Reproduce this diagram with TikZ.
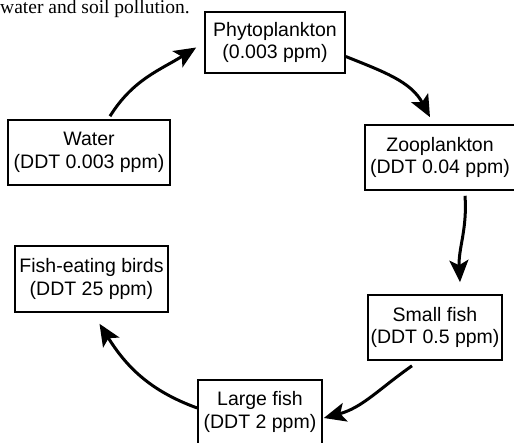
\documentclass[tikz,border=0pt]{standalone}
\usepackage{fontspec}
\setmainfont{Liberation Serif}
\newfontfamily\boxfont{Liberation Sans}
\usetikzlibrary{positioning, arrows.meta, calc}

\begin{document}
\begin{tikzpicture}[
  x=1pt, y=1pt,
  stage/.style={
    draw=black, line width=1.6pt,
    align=center, inner sep=2pt,
    font=\boxfont\fontsize{19.5}{22.5}\selectfont
  },
  flow/.style={
    line width=3pt,
    -{Stealth[length=22pt, width=19pt, inset=5pt]}
  },
]
\useasboundingbox (0,0) rectangle (514,442);

% ---- sentence cut off at the top ----
\node[anchor=base west, inner sep=0pt, font=\fontsize{19.5}{22}\selectfont]
  (caption) at (0,428.5) {water and soil pollution.};

% =====================================================
% FOOD CHAIN BOXES
% =====================================================
\node[stage, minimum width=140pt, minimum height=61pt] (phyto) at (275,399.5)
  {Phytoplankton\\(0.003 ppm)};
\node[stage, minimum width=150pt, minimum height=65pt] (zoo) at (440,284.5)
  {Zooplankton\\(DDT 0.04 ppm)};
\node[stage, minimum width=134pt, minimum height=65pt] (smallfish) at (435,114.5)
  {Small fish\\(DDT 0.5 ppm)};
\node[stage, minimum width=124pt, minimum height=64pt] (largefish) at (260,30)
  {Large fish\\(DDT 2 ppm)};
\node[stage, minimum width=153pt, minimum height=66pt] (birds) at (91.5,163)
  {Fish-eating birds\\(DDT 25 ppm)};
\node[stage, minimum width=162pt, minimum height=65pt] (water) at (89,289.5)
  {Water\\(DDT 0.003 ppm)};

% =====================================================
% CYCLE ARROWS
% =====================================================
\draw[flow] ($(water.north)+(21,3)$) to[out=58, in=212]
  ($(phyto.west)+(-8,-5)$);
\draw[flow] ($(phyto.east)+(0,-14)$) to[out=-22, in=118]
  ($(zoo.north)+(-10,7)$);
\draw[flow] ($(zoo.south)+(25,-5)$) to[out=-86, in=93]
  ($(smallfish.north)+(25,12)$);
\draw[flow] ($(smallfish.south)+(-23,-5)$) to[out=215, in=15]
  ($(largefish.east)+(1,-6)$);
\draw[flow] ($(largefish.west)+(0,4)$) to[out=160, in=-58]
  ($(birds.south)+(8,-11)$);

\end{tikzpicture}
\end{document}
